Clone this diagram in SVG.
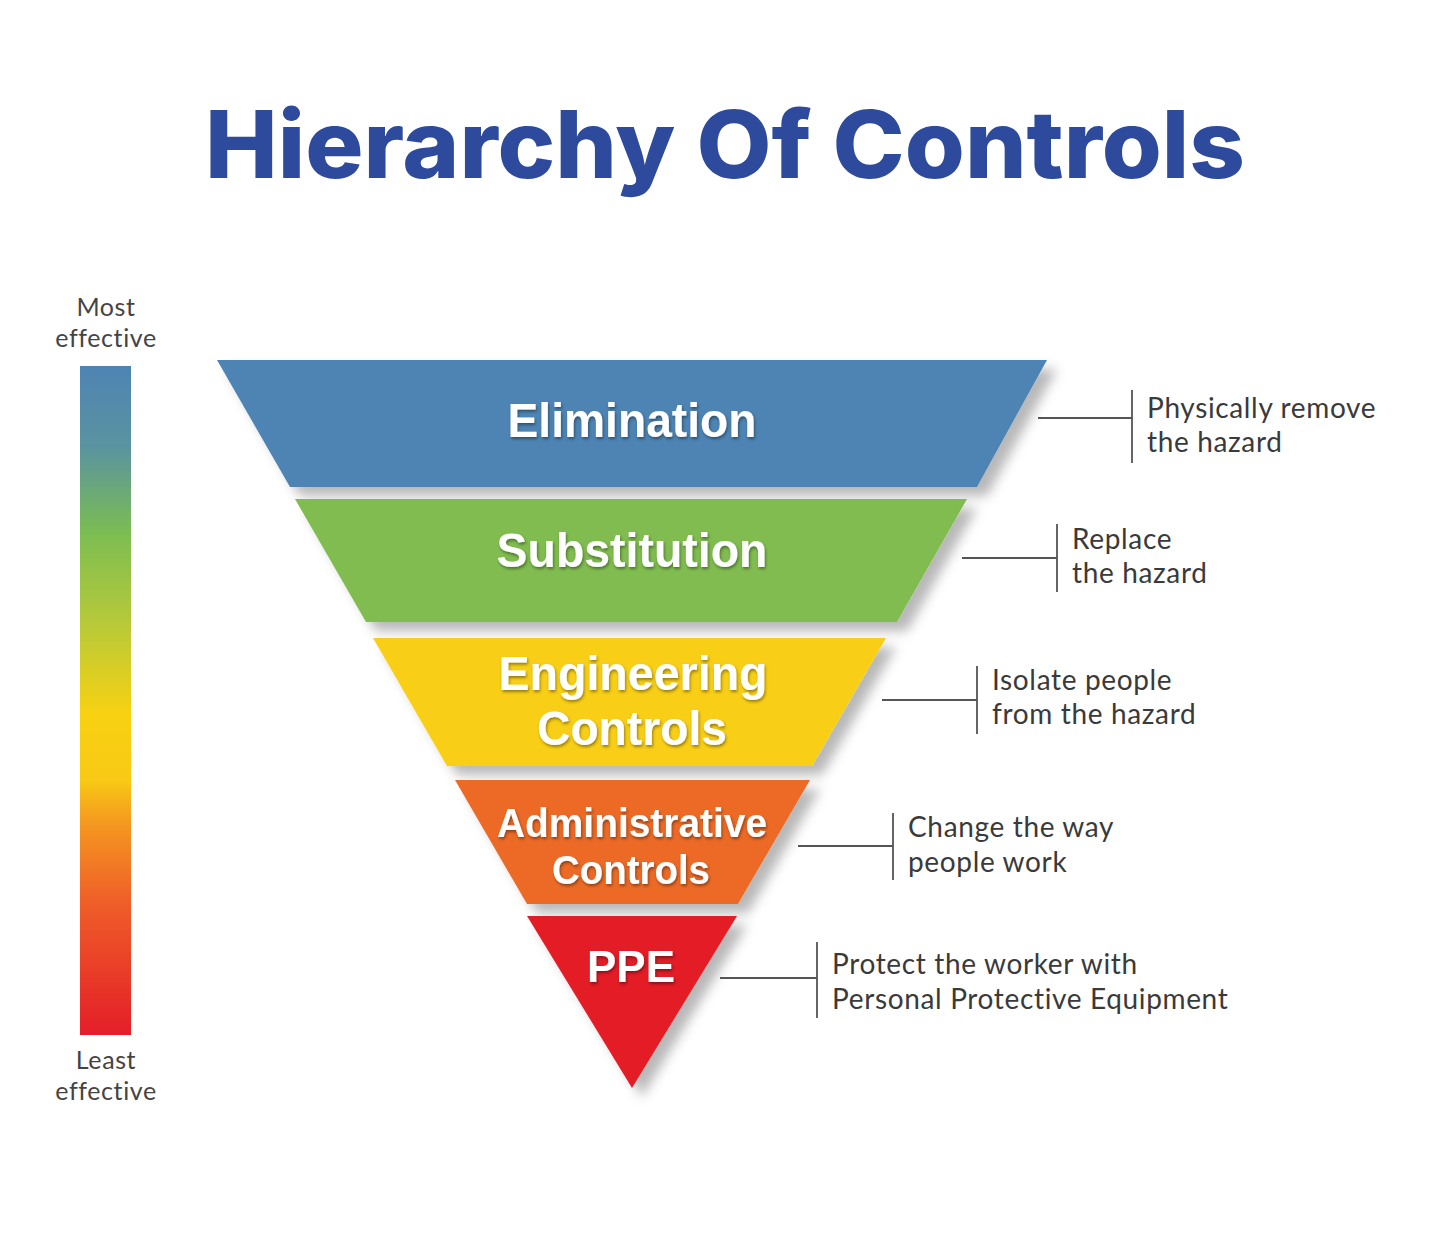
<svg xmlns="http://www.w3.org/2000/svg" width="1429" height="1235" viewBox="0 0 1429 1235">
<defs>
<linearGradient id="effGrad" x1="0" y1="0" x2="0" y2="1">
<stop offset="0" stop-color="#4e84b3"/>
<stop offset="0.12" stop-color="#5a93a0"/>
<stop offset="0.25" stop-color="#7cbd52"/>
<stop offset="0.38" stop-color="#b5c93a"/>
<stop offset="0.52" stop-color="#f8d112"/>
<stop offset="0.62" stop-color="#f8c915"/>
<stop offset="0.68" stop-color="#f59a20"/>
<stop offset="0.8" stop-color="#ef5f28"/>
<stop offset="1" stop-color="#e41e28"/>
</linearGradient>
<filter id="bandShadow" x="-10%" y="-10%" width="130%" height="140%">
<feDropShadow dx="10" dy="9" stdDeviation="6" flood-color="#000" flood-opacity="0.28"/>
</filter>
<filter id="txtShadow" x="-10%" y="-20%" width="120%" height="150%">
<feDropShadow dx="1" dy="2" stdDeviation="1.5" flood-color="#000" flood-opacity="0.4"/>
</filter>
</defs>
<style>
.title{font-family:Inter,"Liberation Sans",sans-serif;font-weight:800;font-size:94px;fill:#2d4a9d}
.band{filter:url(#bandShadow)}
.lbl{font-family:"Liberation Sans",Arial,sans-serif;font-weight:bold;fill:#fff;text-anchor:middle;filter:url(#txtShadow)}
.eff{font-family:Lato,"Open Sans",sans-serif;font-size:25px;letter-spacing:0.6px;fill:#444;text-anchor:middle}
.desc{font-family:Lato,"Open Sans",sans-serif;font-size:28px;letter-spacing:0.65px;fill:#3a3a3a}
.lead{stroke:#555;stroke-width:1.8;fill:none}
</style>
<rect width="1429" height="1235" fill="#fff"/>
<text class="title" x="725" y="178" text-anchor="middle" textLength="1040" lengthAdjust="spacingAndGlyphs">Hierarchy Of Controls</text>

<g id="scale">
<text class="eff" x="106" y="316">Most</text>
<text class="eff" x="106" y="347">effective</text>
<rect x="80" y="366" width="51" height="669" fill="url(#effGrad)"/>
<text class="eff" x="106" y="1069">Least</text>
<text class="eff" x="106" y="1100">effective</text>
</g>

<g id="elimination">
<polygon class="band" points="217,360 1047,360 977,487 290,487" fill="#4e84b3"/>
<text class="lbl" x="632" y="437" font-size="48" textLength="249" lengthAdjust="spacingAndGlyphs">Elimination</text>
</g>
<g id="substitution">
<polygon class="band" points="295,499 967,499 897,622 366,622" fill="#80bc50"/>
<text class="lbl" x="632" y="567" font-size="48" textLength="271" lengthAdjust="spacingAndGlyphs">Substitution</text>
</g>
<g id="engineering">
<polygon class="band" points="373,638 886,638 812,766 447,766" fill="#f8cf12"/>
<text class="lbl" x="633" y="690" font-size="48" textLength="269" lengthAdjust="spacingAndGlyphs">Engineering</text>
<text class="lbl" x="632" y="745" font-size="48" textLength="190" lengthAdjust="spacingAndGlyphs">Controls</text>
</g>
<g id="administrative">
<polygon class="band" points="455,780 810,780 738,904 527,904" fill="#ec6a27"/>
<text class="lbl" x="632" y="837" font-size="40" textLength="270" lengthAdjust="spacingAndGlyphs">Administrative</text>
<text class="lbl" x="631" y="884" font-size="40" textLength="158" lengthAdjust="spacingAndGlyphs">Controls</text>
</g>
<g id="ppe">
<polygon class="band" points="527,916 737,916 632,1088" fill="#e31e27"/>
<text class="lbl" x="631" y="982" font-size="44" textLength="88" lengthAdjust="spacingAndGlyphs">PPE</text>
</g>

<g id="connectors">
<path class="lead" d="M1038,418 H1132 M1132,390 V463"/>
<path class="lead" d="M962,558 H1057 M1057,524 V592"/>
<path class="lead" d="M882,700 H977 M977,666 V734"/>
<path class="lead" d="M798,846 H893 M893,813 V880"/>
<path class="lead" d="M720,978 H817 M817,942 V1018"/>
</g>

<g id="desc-elimination">
<text class="desc" x="1147" y="418">Physically remove</text>
<text class="desc" x="1147" y="452">the hazard</text>
</g>
<g id="desc-substitution">
<text class="desc" x="1072" y="549">Replace</text>
<text class="desc" x="1072" y="583">the hazard</text>
</g>
<g id="desc-engineering">
<text class="desc" x="992" y="690">Isolate people</text>
<text class="desc" x="992" y="724">from the hazard</text>
</g>
<g id="desc-administrative">
<text class="desc" x="908" y="837">Change the way</text>
<text class="desc" x="908" y="872">people work</text>
</g>
<g id="desc-ppe">
<text class="desc" x="832" y="974">Protect the worker with</text>
<text class="desc" x="832" y="1009">Personal Protective Equipment</text>
</g>
</svg>
